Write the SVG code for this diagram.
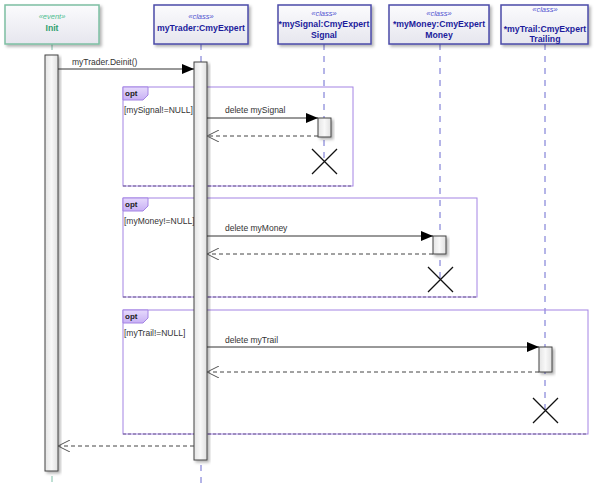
<svg xmlns="http://www.w3.org/2000/svg" width="598" height="500" viewBox="0 0 598 500">
<defs>
<linearGradient id="gBox" x1="0" y1="0" x2="0" y2="1"><stop offset="0" stop-color="#fbfbfd"/><stop offset="1" stop-color="#e6e6ee"/></linearGradient>
<linearGradient id="gAct" x1="0" y1="0" x2="1" y2="0"><stop offset="0" stop-color="#e4e4e4"/><stop offset="0.5" stop-color="#f8f8f8"/><stop offset="1" stop-color="#e0e0e0"/></linearGradient>
<linearGradient id="gTab" x1="0" y1="0" x2="0" y2="1"><stop offset="0" stop-color="#e6dafc"/><stop offset="1" stop-color="#c8b0f4"/></linearGradient>
<filter id="sh" x="-20%" y="-20%" width="150%" height="150%"><feDropShadow dx="2" dy="2" stdDeviation="1.5" flood-color="#000" flood-opacity="0.3"/></filter>
<marker id="fill" viewBox="0 0 12 10" refX="12" refY="5" markerWidth="12" markerHeight="10" markerUnits="userSpaceOnUse" orient="auto"><path d="M0,0 L12,5 L0,10 Z" fill="#000"/></marker>
<marker id="open" viewBox="0 0 12 12" refX="12" refY="6" markerWidth="12" markerHeight="12" markerUnits="userSpaceOnUse" orient="auto"><path d="M0,0 L12,6 L0,12" fill="none" stroke="#555" stroke-width="1"/></marker>
</defs>
<style>
text{font-family:"Liberation Sans",Arial,sans-serif;}
.cls{fill:url(#gBox);stroke:#4b4ba8;stroke-width:1.5;filter:url(#sh);}
.evt{fill:url(#gBox);stroke:#7dbfa3;stroke-width:1.5;filter:url(#sh);}
.st{font-size:7.5px;font-style:italic;fill:#5050d0;text-anchor:middle;}
.nm{font-size:8.7px;font-weight:bold;fill:#1c1c9c;text-anchor:middle;}
.ste{font-size:7.5px;font-style:italic;fill:#4fbf8f;text-anchor:middle;}
.nme{font-size:8.7px;font-weight:bold;fill:#2f9f6f;text-anchor:middle;}
.life{stroke:#6a6ad0;stroke-width:1;stroke-dasharray:6,6;fill:none;}
.lifeg{stroke:#7fc0a8;stroke-width:1;stroke-dasharray:6,6;fill:none;}
.act{fill:url(#gAct);stroke:#444;stroke-width:1;filter:url(#sh);}
.frame{fill:none;stroke:#a484e4;stroke-width:1;}
.fbot{stroke:#6a5a8a;stroke-width:1;stroke-dasharray:3,2;}
.tab{fill:url(#gTab);stroke:#a484e4;stroke-width:1;}
.opt{font-size:8px;font-weight:bold;fill:#222;}
.lbl{font-size:8.5px;fill:#333;}
.msg{stroke:#333;stroke-width:1;fill:none;marker-end:url(#fill);}
.ret{stroke:#444;stroke-width:1;stroke-dasharray:4,3;fill:none;marker-end:url(#open);}
.x{stroke:#111;stroke-width:1.3;}
</style>

<g id="lifelines">
<line class="lifeg" x1="52" y1="44" x2="52" y2="56"/>
<line class="lifeg" x1="52" y1="476" x2="52" y2="484"/>
<line class="life" x1="201" y1="44" x2="201" y2="62"/>
<line class="life" x1="201" y1="465" x2="201" y2="484"/>
<line class="life" x1="324" y1="44" x2="324" y2="162"/>
<line class="life" x1="440" y1="44" x2="440" y2="280"/>
<line class="life" x1="545" y1="44" x2="545" y2="410"/>
</g>

<g id="Init"><rect class="evt" x="5" y="5" width="94" height="39"/><text class="ste" x="52" y="19">«event»</text><text class="nme" x="52" y="31">Init</text></g>
<g id="myTrader"><rect class="cls" x="154" y="5" width="94" height="39"/><text class="st" x="201" y="19">«class»</text><text class="nm" x="201" y="31">myTrader:CmyExpert</text></g>
<g id="mySignal"><rect class="cls" x="278" y="5" width="93" height="39"/><text class="st" x="324" y="16">«class»</text><text class="nm" x="324" y="27">*mySignal:CmyExpert</text><text class="nm" x="324" y="38">Signal</text></g>
<g id="myMoney"><rect class="cls" x="389" y="5" width="100" height="39"/><text class="st" x="439" y="16">«class»</text><text class="nm" x="439" y="27">*myMoney:CmyExpert</text><text class="nm" x="439" y="38">Money</text></g>
<g id="myTrail"><rect class="cls" x="501" y="5" width="87" height="39"/><text class="st" x="545" y="12">«class»</text><text class="nm" x="545" y="32">*myTrail:CmyExpert</text><text class="nm" x="545" y="42">Trailing</text></g>

<g id="opt1"><rect class="frame" x="123" y="87" width="230" height="99"/><line class="fbot" x1="123" y1="186" x2="353" y2="186"/><path class="tab" d="M123,87 H148 V95 L143,100 H123 Z"/><text class="opt" x="125" y="96">opt</text><text class="lbl" x="124" y="113">[mySignal!=NULL]</text></g>
<g id="opt2"><rect class="frame" x="123" y="198" width="354" height="99"/><line class="fbot" x1="123" y1="297" x2="477" y2="297"/><path class="tab" d="M123,198 H148 V206 L143,211 H123 Z"/><text class="opt" x="125" y="207">opt</text><text class="lbl" x="124" y="224">[myMoney!=NULL]</text></g>
<g id="opt3"><rect class="frame" x="123" y="310" width="465" height="124"/><line class="fbot" x1="123" y1="434" x2="588" y2="434"/><path class="tab" d="M123,310 H148 V318 L143,323 H123 Z"/><text class="opt" x="125" y="319">opt</text><text class="lbl" x="124" y="336">[myTrail!=NULL]</text></g>

<g id="activations">
<rect class="act" x="45" y="55" width="13" height="416"/>
<rect class="act" x="194" y="62" width="13" height="398"/>
<rect class="act" x="318" y="118" width="13" height="19"/>
<rect class="act" x="433" y="236" width="13" height="18"/>
<rect class="act" x="539" y="347" width="13" height="25"/>
</g>

<g id="connectors">
<line class="msg" x1="58" y1="69" x2="194" y2="69"/><text class="lbl" x="72" y="65">myTrader.Deinit()</text>
<line class="msg" x1="207" y1="118" x2="318" y2="118"/><text class="lbl" x="225" y="113">delete mySignal</text>
<line class="ret" x1="318" y1="136" x2="207" y2="136"/>
<line class="msg" x1="207" y1="236" x2="433" y2="236"/><text class="lbl" x="225" y="231">delete myMoney</text>
<line class="ret" x1="433" y1="254" x2="207" y2="254"/>
<line class="msg" x1="207" y1="347" x2="539" y2="347"/><text class="lbl" x="225" y="343">delete myTrail</text>
<line class="ret" x1="539" y1="372" x2="207" y2="372"/>
<line class="ret" x1="194" y1="446" x2="58" y2="446"/>
</g>

<g id="destroy">
<path class="x" d="M312,149 L337,174 M337,149 L312,174"/>
<path class="x" d="M428,267 L453,292 M453,267 L428,292"/>
<path class="x" d="M533,398 L558,423 M558,398 L533,423"/>
</g>
</svg>
